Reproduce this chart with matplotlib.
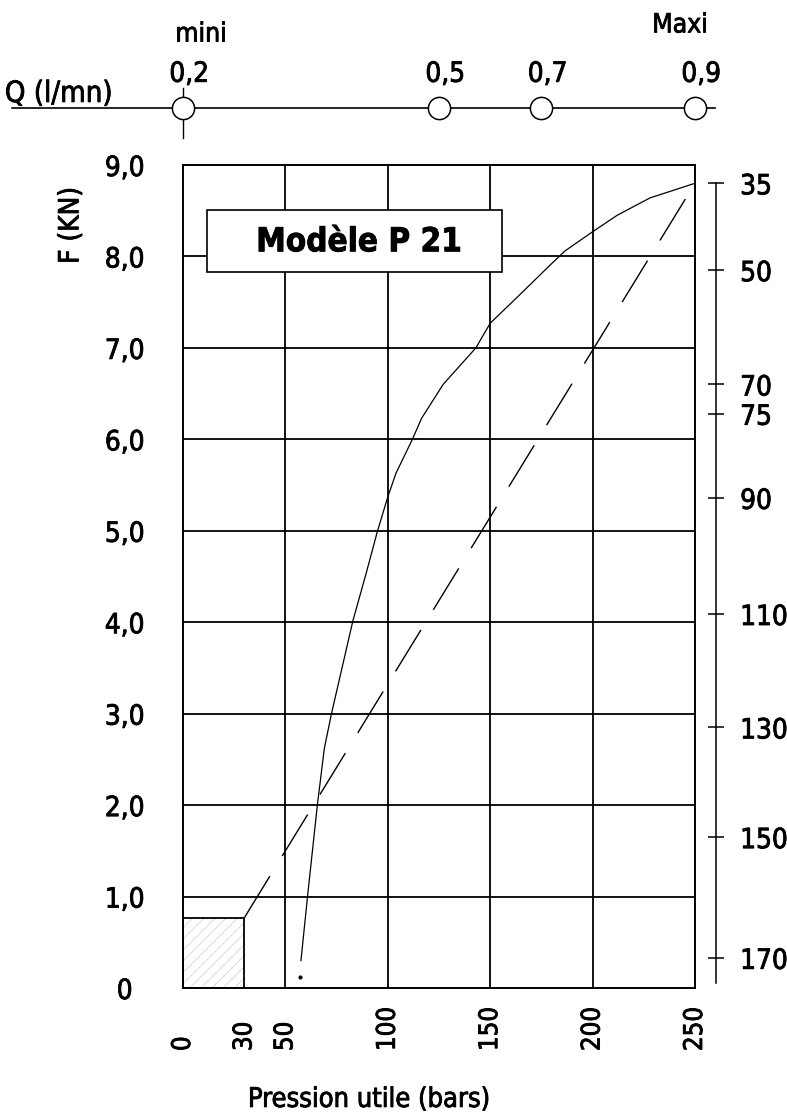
import matplotlib
matplotlib.use("Agg")
import matplotlib.pyplot as plt
import matplotlib.patheffects as pe
from matplotlib.patches import Rectangle

# ---------------- DATA ----------------
# solid curve : force F (kN) vs pressure (bars)
curve_p = [57.6, 60.8, 65.6, 69, 72.5, 83, 89.5, 95, 100, 104, 112, 116.5,
           127, 143, 150, 163, 179, 186.5, 200, 212, 228, 250]
curve_f = [0.3, 1.0, 2.0, 2.62, 3.0, 4.02, 4.54, 5.0, 5.37, 5.63, 6.0, 6.23,
           6.6, 7.0, 7.27, 7.55, 7.9, 8.06, 8.27, 8.45, 8.64, 8.8]

# dashed line
dash_p = [30, 250]
dash_f = [0.77, 8.8]

# start dot of the curve
dot_p = [57]
dot_f = [0.12]

# shaded zone (0-30 bars)
zone_p = [0, 30]
zone_f = [0, 0.77]

x_ticks = [0, 30, 50, 100, 150, 200, 250]
x_grid = [50, 100, 150, 200]
y_ticks = [0, 1, 2, 3, 4, 5, 6, 7, 8, 9]
y_labels = ["0", "1,0", "2,0", "3,0", "4,0", "5,0", "6,0", "7,0", "8,0", "9,0"]
y_grid = [1, 2, 3, 4, 5, 6, 7, 8]

# right-hand scale (positions expressed in F units)
right_labels = ["35", "50", "70", "75", "90", "110", "130", "150", "170"]
right_pos = [8.8, 7.85, 6.6, 6.28, 5.36, 4.09, 2.85, 1.65, 0.33]

# flow scale on top
q_labels = ["0,2", "0,5", "0,7", "0,9"]
q_pos = [0, 125, 175, 250]

FS = 20
plt.rcParams["font.family"] = ["DejaVu Sans"]
plt.rcParams["font.stretch"] = "condensed"
plt.rcParams["hatch.linewidth"] = 0.5

# slightly heavier strokes, like the scanned print
heavy = [pe.withStroke(linewidth=0.6, foreground="black")]

fig = plt.figure(figsize=(7.87, 11.15), dpi=100)
ax = fig.add_axes([183 / 787, 1 - 988 / 1115, 512 / 787, 823 / 1115])
ax.set_xlim(0, 250)
ax.set_ylim(0, 9)

for s in ax.spines.values():
    s.set_linewidth(1.4)

# grid
ax.hlines(y_grid, 0, 250, color="black", lw=1.3, zorder=1)
ax.vlines(x_grid, 0, 9, color="black", lw=1.3, zorder=1)

# shaded zone
ax.add_patch(Rectangle((zone_p[0], zone_f[0]), zone_p[1] - zone_p[0], zone_f[1] - zone_f[0],
                       facecolor="none", edgecolor="#cfcfcf", hatch="///", lw=0, zorder=2))
ax.add_patch(Rectangle((zone_p[0], zone_f[0]), zone_p[1] - zone_p[0], zone_f[1] - zone_f[0],
                       facecolor="none", edgecolor="black", lw=1.3, zorder=2))

# curves
ax.plot(curve_p, curve_f, color="black", lw=0.9, zorder=3)
ax.plot(dash_p, dash_f, color="black", lw=1.0, dashes=(35, 17), zorder=3)
ax.plot(dot_p, dot_f, "o", color="black", ms=2, zorder=3)

# title box
ax.add_patch(Rectangle((11.7, 7.83), 144.3, 0.68, facecolor="white",
                       edgecolor="black", lw=1.2, zorder=4))
ax.text(86, 8.16, "Modèle P 21", fontsize=23.8, fontweight="bold",
        ha="center", va="center", zorder=5, path_effects=heavy)

# left axis
ax.set_yticks(y_ticks, labels=y_labels)
ax.tick_params(axis="y", length=0, pad=42, labelsize=FS)
for lbl in ax.get_yticklabels():
    lbl.set_ha("center")
    lbl.set_path_effects(heavy)
ax.set_xticks([])
ax.text(-55, 8.34, "F (KN)", rotation=90, fontsize=20, ha="center", va="center",
        path_effects=heavy)

# bottom labels (rotated, bottom aligned)
for p in x_ticks:
    ax.text(p, -0.0766, str(p), transform=ax.get_xaxis_transform(), rotation=90,
            ha="center", va="bottom", fontsize=18.5, path_effects=heavy)
ax.text(91, -0.136, "Pression utile (bars)", transform=ax.get_xaxis_transform(),
        ha="center", va="center", fontsize=19.5, path_effects=heavy)

# right scale
ax2 = ax.twinx()
ax2.set_ylim(0, 9)
for side in ["top", "left", "bottom"]:
    ax2.spines[side].set_visible(False)
ax2.spines["right"].set_position(("outward", 15))
ax2.spines["right"].set_bounds(0.05, 8.8)
ax2.spines["right"].set_linewidth(1.1)
ax2.set_yticks(right_pos, labels=right_labels)
ax2.tick_params(axis="y", direction="inout", length=11, width=1.1, pad=12, labelsize=FS)
for lbl in ax2.get_yticklabels():
    lbl.set_path_effects(heavy)

# flow scale on top
ax.plot([-83.5, 260], [9.62, 9.62], color="black", lw=1.2, clip_on=False)
ax.plot([0, 0], [9.30, 9.84], color="black", lw=1.0, clip_on=False)
ax.plot(q_pos, [9.62] * len(q_pos), "o", ms=16, mfc="white", mec="black", mew=1.1,
        clip_on=False, zorder=5)
for lab, p in zip(q_labels, q_pos):
    ax.text(p + 3, 9.91, lab, ha="center", va="baseline", fontsize=FS, clip_on=False,
            path_effects=heavy)
ax.text(-87, 9.69, "Q (l/mn)", ha="left", va="baseline", fontsize=21, path_effects=heavy)
ax.text(8.8, 10.35, "mini", ha="center", va="baseline", fontsize=19, path_effects=heavy)
ax.text(242.7, 10.45, "Maxi", ha="center", va="baseline", fontsize=19, path_effects=heavy)

fig.savefig("out.png", dpi=100)
